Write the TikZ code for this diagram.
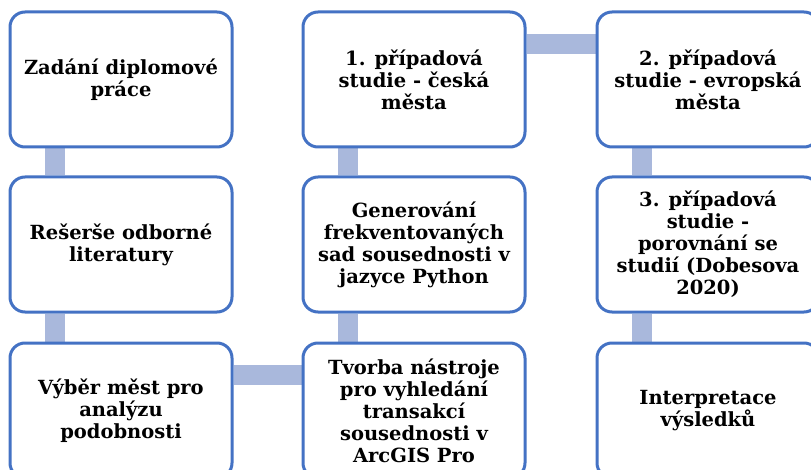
\documentclass[tikz,border=0pt]{standalone}
\usepackage{fontspec}
\setmainfont{DejaVu Serif}
\usetikzlibrary{positioning,calc,backgrounds}
\definecolor{figBorder}{HTML}{4472C4}
\definecolor{figBar}{HTML}{A9B8DC}

\begin{document}
\begin{tikzpicture}[x=1pt,y=-1pt,
  font=\bfseries\fontsize{19.5}{22}\selectfont,
  stepbox/.style={draw=figBorder,line width=3pt,fill=white,rounded corners=15pt,
                  minimum width=222pt,minimum height=135pt,align=center,inner sep=0pt},
  link/.style={figBar,line width=20pt}
]
\useasboundingbox (0,0) rectangle (811,470);
\clip (0,0) rectangle (811,470);
% first column
\node[stepbox] (zadani)  at (121,79.5)  {Zadání diplomové\\práce};
\node[stepbox] (reserse) at (121,244.5) {Rešerše odborné\\literatury};
\node[stepbox] (vyber)   at (121,410.5) {Výběr měst pro\\analýzu\\podobnosti};
% second column
\node[stepbox] (pripad1)    at (414,79.5)  {1. případová\\studie - česká\\města};
\node[stepbox] (generovani) at (414,244.5) {Generování\\frekventovaných\\sad sousednosti v\\jazyce Python};
\node[stepbox] (tvorba)     at (414,410.5) {Tvorba nástroje\\pro vyhledání\\transakcí\\sousednosti v\\ArcGIS Pro};
% third column
\node[stepbox] (pripad2)      at (708,79.5)  {2. případová\\studie - evropská\\města};
\node[stepbox] (pripad3)      at (708,244.5) {3. případová\\studie -\\porovnání se\\studií (Dobesova\\2020)};
\node[stepbox] (interpretace) at (708,410.5) {Interpretace\\výsledků};
% connecting bars
\begin{scope}[on background layer]
\fill[white] (0,0) rectangle (811,470);
\draw[link] ([xshift=46pt]zadani.south west) -- ([xshift=46pt]reserse.north west);
\draw[link] ([xshift=46pt]reserse.south west) -- ([xshift=46pt]vyber.north west);
\draw[link] ([yshift=-33pt]vyber.north east) -- ([yshift=-33pt]tvorba.north west);
\draw[link] ([xshift=46pt]tvorba.north west) -- ([xshift=46pt]generovani.south west);
\draw[link] ([xshift=46pt]generovani.north west) -- ([xshift=46pt]pripad1.south west);
\draw[link] ([yshift=-34pt]pripad1.north east) -- ([yshift=-34pt]pripad2.north west);
\draw[link] ([xshift=46pt]pripad2.south west) -- ([xshift=46pt]pripad3.north west);
\draw[link] ([xshift=46pt]pripad3.south west) -- ([xshift=46pt]interpretace.north west);
\end{scope}
\end{tikzpicture}
\end{document}
